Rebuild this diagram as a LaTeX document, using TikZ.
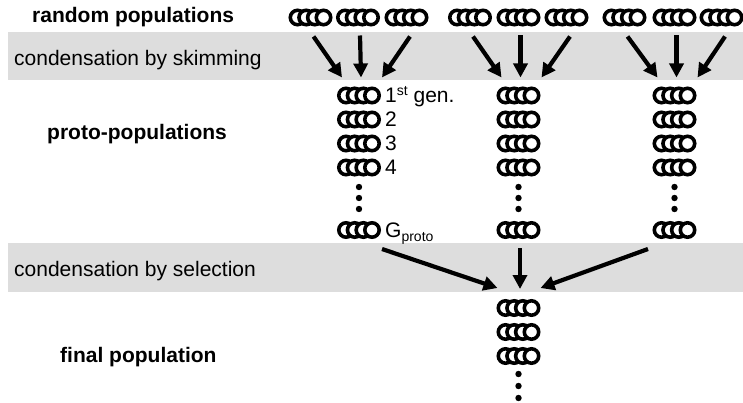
\documentclass[tikz,border=0pt]{standalone}
\usepackage{fontspec}
\setmainfont{Liberation Sans}
\usetikzlibrary{arrows.meta,calc}
\definecolor{bandgray}{RGB}{221,221,221}
\tikzset{
  popbox/.style={minimum width=44pt,minimum height=18pt,inner sep=0pt,outer sep=0pt},
  ring/.style={draw=black,fill=white,line width=3.6pt},
  popn/.pic={\foreach \i in {0,1,2,3} \path[ring] (-13pt+\i*8.667pt,0pt) circle[radius=7.2pt];},
  arr/.style={line width=4.2pt,-{Triangle[length=14pt,width=14pt]}},
  lbl/.style={anchor=base west,inner sep=0pt,font=\fontsize{21}{25}\selectfont},
  head/.style={lbl,font=\fontsize{21}{25}\selectfont\bfseries},
  dot/.style={fill=black}
}
\newcommand\popat[2]{\node[popbox] (#1) at (#2) {}; \pic at (#1) {popn};}
\begin{document}
\begin{tikzpicture}[x=1pt,y=-1pt]
\useasboundingbox (0,0) rectangle (743,403);
% shaded bands
\fill[bandgray] (8,32) rectangle (743,80);
\fill[bandgray] (8,243) rectangle (743,292);
% row labels
\node[head] (lrand) at (32,23) {random populations};
\node[lbl] (lskim) at (14,65.3) {condensation by skimming};
\node[head] (lproto) at (47,139.3) {proto-populations};
\node[lbl] (lsel) at (14,276) {condensation by selection};
\node[head] (lfinal) at (60,362.7) {final population};
% random populations
\popat{t11}{310.5,17.5}\popat{t12}{358,17.5}\popat{t13}{406.5,17.5}
\popat{t21}{470,17.5}\popat{t22}{518.5,17.5}\popat{t23}{566.5,17.5}
\popat{t31}{624.5,17.5}\popat{t32}{674.5,17.5}\popat{t33}{721.5,17.5}
% proto-populations
\foreach \c/\x in {1/359,2/518.5,3/674.5}{
  \foreach \r/\y in {1/95.5,2/119.5,3/143.5,4/167.5}{\popat{p\c\r}{\x,\y}}
  \popat{p\c g}{\x,230}
  \foreach \y in {187,198,209} \fill[dot] (\x,\y) circle[radius=3.2pt];
}
% generation labels
\node[lbl] (gen1) at (385,103) {1\raisebox{7pt}{\fontsize{14}{14}\selectfont st} gen.};
\node[lbl] (gen2) at (385,127) {2};
\node[lbl] (gen3) at (385,151) {3};
\node[lbl] (gen4) at (385,175) {4};
\node[lbl] (genG) at (385,237) {G\raisebox{-4pt}{\fontsize{14}{14}\selectfont proto}};
% final population
\popat{f1}{518.5,308}\popat{f2}{518.5,332}\popat{f3}{518.5,356}
\foreach \y in {374,386,398} \fill[dot] (518.5,\y) circle[radius=3.2pt];
% skimming arrows
\foreach \c in {1,2,3}{
  \draw[arr] ($(t\c1.south)+(3,10)$) -- ($(p\c1.north)+(-17,-9)$);
  \draw[arr] ($(t\c2.south)+(2,9)$) -- ($(p\c1.north)+(2,-9)$);
  \draw[arr] ($(t\c3.south)+(3.5,10)$) -- ($(p\c1.north)+(23,-9)$);
}
% selection arrows
\draw[arr] ($(p1g.south)+(23,10)$) -- ($(f1.north)+(-21,-11)$);
\draw[arr] ($(p2g.south)+(1.5,9)$) -- ($(f1.north)+(1.5,-10)$);
\draw[arr] ($(p3g.south)+(-26.5,10)$) -- ($(f1.north)+(22,-11)$);
\end{tikzpicture}
\end{document}
